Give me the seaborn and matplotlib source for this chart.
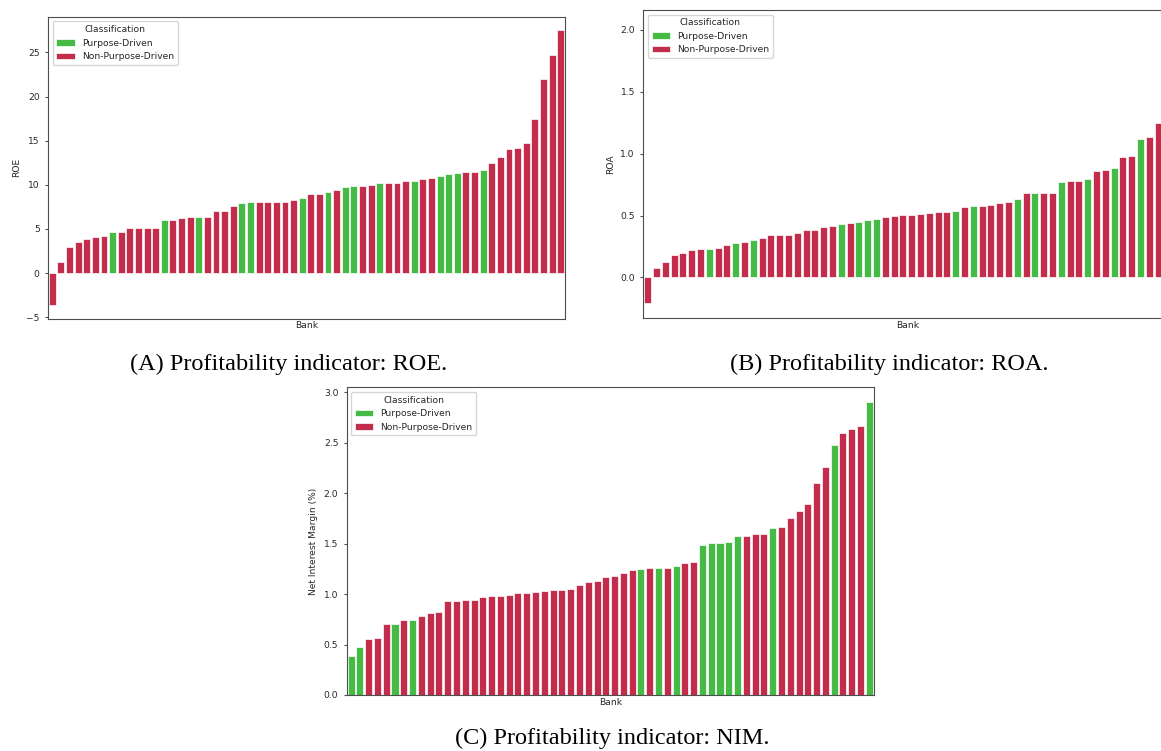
"""
Profitability indicators (ROE, ROA, NIM) per bank, coloured by classification
"""

import matplotlib
matplotlib.use("Agg")
import matplotlib.pyplot as plt
import seaborn as sns
import pandas as pd

sns.set_style("ticks")
plt.rcParams['font.family'] = ['DejaVu Sans']
plt.rcParams['font.size'] = 6.6
plt.rcParams['axes.edgecolor'] = '0.3'
plt.rcParams['axes.linewidth'] = 0.8
plt.rcParams['ytick.major.size'] = 2.5
plt.rcParams['ytick.color'] = '0.3'
plt.rcParams['ytick.labelcolor'] = '0.15'

# Banks sorted by indicator value (rank positions of purpose-driven banks, 1-based)
roe = [-3.6, 1.2, 2.9, 3.5, 3.9, 4.1, 4.2, 4.6, 4.7, 5.05,
       5.15, 5.15, 5.15, 6.0, 6.0, 6.2, 6.3, 6.4, 6.4, 7.05,
       7.05, 7.6, 7.9, 8.0, 8.1, 8.1, 8.1, 8.1, 8.3, 8.5,
       8.95, 8.95, 9.15, 9.45, 9.75, 9.85, 9.85, 9.95, 10.15, 10.15,
       10.15, 10.4, 10.4, 10.7, 10.8, 11.0, 11.2, 11.3, 11.45, 11.5,
       11.65, 12.45, 13.1, 14.05, 14.15, 14.7, 17.5, 22.0, 24.7, 27.5]
roe_purpose = [8, 14, 18, 23, 24, 30, 33, 35, 36, 39, 43, 46, 47, 48, 51]

roa = [-0.21, 0.075, 0.125, 0.18, 0.195, 0.22, 0.23, 0.23, 0.24, 0.26,
       0.275, 0.29, 0.305, 0.315, 0.34, 0.34, 0.34, 0.355, 0.38, 0.38,
       0.405, 0.415, 0.43, 0.44, 0.45, 0.46, 0.47, 0.49, 0.497, 0.505,
       0.505, 0.513, 0.52, 0.53, 0.53, 0.538, 0.567, 0.58, 0.58, 0.589,
       0.605, 0.613, 0.63, 0.68, 0.68, 0.68, 0.685, 0.77, 0.78, 0.78,
       0.795, 0.858, 0.87, 0.88, 0.97, 0.978, 1.116, 1.132, 1.245]
roa_purpose = [8, 11, 13, 23, 25, 26, 27, 36, 38, 43, 45, 48, 51, 54, 57]

nim = [0.39, 0.477, 0.56, 0.57, 0.70, 0.70, 0.74, 0.74, 0.786, 0.816,
       0.826, 0.928, 0.928, 0.9375, 0.9375, 0.974, 0.984, 0.984, 0.993, 1.013,
       1.013, 1.02, 1.03, 1.04, 1.04, 1.05, 1.095, 1.125, 1.135, 1.168,
       1.18, 1.207, 1.237, 1.253, 1.263, 1.263, 1.263, 1.283, 1.31, 1.32,
       1.49, 1.507, 1.507, 1.516, 1.572, 1.572, 1.6, 1.6, 1.658, 1.668,
       1.75, 1.826, 1.898, 2.10, 2.26, 2.477, 2.6, 2.635, 2.664, 2.905]
nim_purpose = [1, 2, 6, 8, 34, 36, 38, 41, 42, 43, 44, 45, 49, 56, 60]

classes = ['Purpose-Driven', 'Non-Purpose-Driven']
palette = {'Purpose-Driven': 'limegreen', 'Non-Purpose-Driven': 'crimson'}

captions = ['(A) Profitability indicator: ROE.',
            '(B) Profitability indicator: ROA.',
            '(C) Profitability indicator: NIM.']


def make_df(values, purpose, col):
    banks = [f'B{i + 1:02d}' for i in range(len(values))]
    cls = [classes[0] if i + 1 in purpose else classes[1] for i in range(len(values))]
    return pd.DataFrame({'Bank': banks, col: values, 'Classification': cls})


W, H = 1161, 751
fig = plt.figure(figsize=(W / 100, H / 100), dpi=100)


def px_axes(left, top, right, bottom):
    return fig.add_axes([left / W, 1 - bottom / H, (right - left) / W, (bottom - top) / H])


panels = [
    (make_df(roe, roe_purpose, 'ROE'), 'ROE', px_axes(48, 16.7, 565, 318.5)),
    (make_df(roa, roa_purpose, 'ROA'), 'ROA', px_axes(643.3, 10, 1171.3, 318.3)),
    (make_df(nim, nim_purpose, 'Net Interest Margin (%)'), 'Net Interest Margin (%)',
     px_axes(346.7, 387.3, 873.7, 695)),
]

for df, col, ax in panels:
    sns.barplot(data=df, x='Bank', y=col, hue='Classification', hue_order=classes,
                palette=palette, dodge=False, width=0.8, edgecolor='white',
                linewidth=0.5, ax=ax)
    ax.set_xticks([])
    ax.set_xlabel('Bank', labelpad=2)
    ax.legend(title='Classification', loc='upper left', fontsize=6.6,
              title_fontsize=6.6)

# ROA panel is cropped at the right edge of the figure
panels[1][2].set_xlim(-0.5, 59.5)
panels[1][2].set_ylim(-0.33, 2.16)

cap_pos = [(289, 364), (889, 364), (612, 738)]
for (cx, cy), text in zip(cap_pos, captions):
    fig.text(cx / W, 1 - cy / H, text, ha='center', va='center',
             family='Liberation Serif', fontsize=17.5, color='black')

fig.savefig('out.png', dpi=100)
plt.close(fig)
